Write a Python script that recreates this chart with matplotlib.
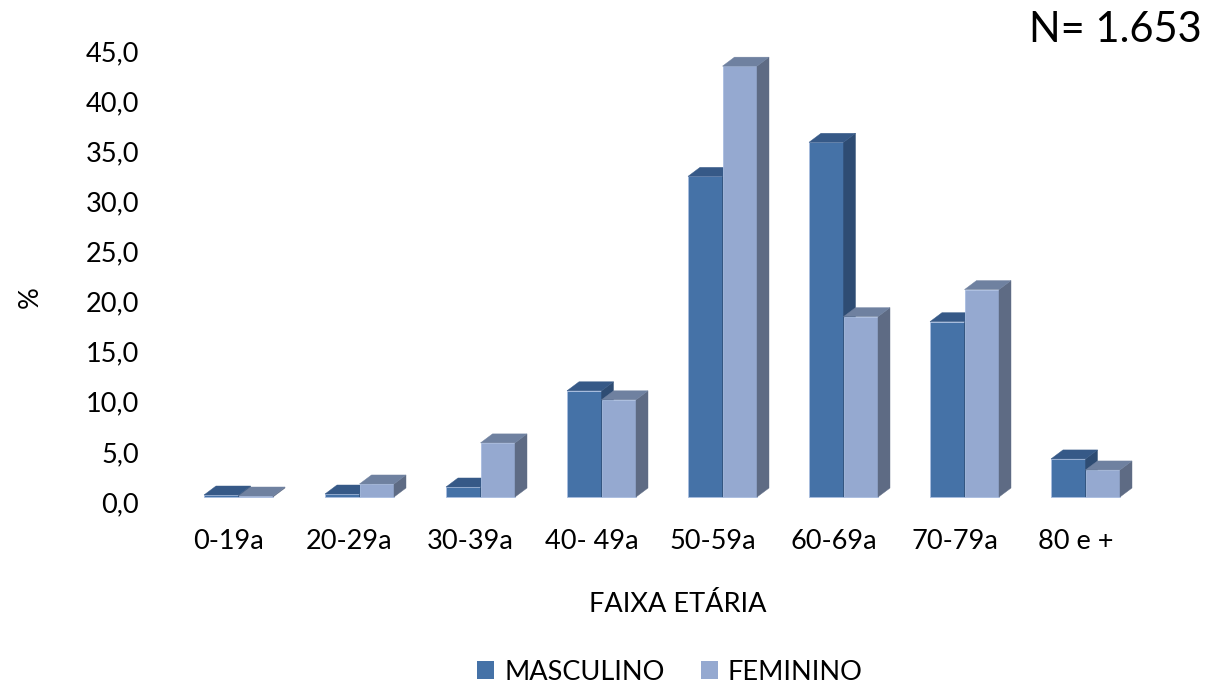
import matplotlib.pyplot as plt
from matplotlib.patches import Polygon, Patch
from matplotlib.transforms import ScaledTranslation

# Distribuição por faixa etária e sexo (%)
faixas = ['0-19a', '20-29a', '30-39a', '40- 49a', '50-59a', '60-69a', '70-79a', '80 e +']
masculino = [0.2, 0.3, 1.0, 10.6, 32.0, 35.4, 17.5, 3.8]
feminino = [0.1, 1.3, 5.4, 9.7, 43.0, 18.0, 20.7, 2.7]
yticks = [0, 5, 10, 15, 20, 25, 30, 35, 40, 45]
ytick_labels = ['0,0', '5,0', '10,0', '15,0', '20,0', '25,0', '30,0', '35,0', '40,0', '45,0']

# cores: frente, topo, lateral
cores_m = ('#4572a7', '#365987', '#2e4c73')
cores_f = ('#95a9d0', '#6f81a0', '#5e6b84')

plt.rcParams['font.family'] = ['Lato', 'DejaVu Sans']

W, H = 1211, 684
fig = plt.figure(figsize=(W / 100, H / 100), dpi=100)

# eixo posicionado em pixels
ax_l, ax_r, ax_t, ax_b = 150, 1150, 40, 510
ax = fig.add_axes([ax_l / W, 1 - ax_b / H, (ax_r - ax_l) / W, (ax_b - ax_t) / H])

px_cat = 121.0     # pixels por categoria
px_val = 10.02     # pixels por unidade de %
x0_px = 238.5      # centro do primeiro grupo
y0_px = 497.0      # base das barras
ax.set_xlim((ax_l - x0_px) / px_cat, (ax_r - x0_px) / px_cat)
ax.set_ylim((y0_px - ax_b) / px_val, (y0_px - ax_t) / px_val)

largura = 34.5 / px_cat
dx = 12 / px_cat
dy = 9 / px_val


def barra3d(x, h, cores, z):
    frente, topo, lado = cores
    ax.add_patch(Polygon([(x, 0), (x + largura, 0), (x + largura, h), (x, h)],
                         closed=True, facecolor=frente, edgecolor='#a9bde0',
                         linewidth=0.6, zorder=z))
    ax.add_patch(Polygon([(x + largura, 0), (x + largura + dx, dy),
                          (x + largura + dx, h + dy), (x + largura, h)],
                         closed=True, facecolor=lado, edgecolor=lado,
                         linewidth=0.3, zorder=z))
    ax.add_patch(Polygon([(x, h), (x + largura, h), (x + largura + dx, h + dy),
                          (x + dx, h + dy)],
                         closed=True, facecolor=topo, edgecolor=topo,
                         linewidth=0.3, zorder=z))


for i, (m, f) in enumerate(zip(masculino, feminino)):
    barra3d(i - largura, m, cores_m, 2 + 2 * i)
    barra3d(i, f, cores_f, 3 + 2 * i)

for s in ax.spines.values():
    s.set_visible(False)

ax.set_yticks(yticks)
ax.set_yticklabels(ytick_labels)
ax.set_xticks(range(len(faixas)))
ax.set_xticklabels(faixas)
ax.tick_params(axis='both', length=0, labelsize=19.5, colors='black')
ax.tick_params(axis='y', pad=8)
ax.tick_params(axis='x', pad=14)

# rótulos deslocados como no gráfico 3D
off_y = ScaledTranslation(0, -5 / 100, fig.dpi_scale_trans)
for lbl in ax.get_yticklabels():
    lbl.set_transform(lbl.get_transform() + off_y)
off_x = ScaledTranslation(-10 / 100, 0, fig.dpi_scale_trans)
for lbl in ax.get_xticklabels():
    lbl.set_transform(lbl.get_transform() + off_x)

fig.text(30 / W, 1 - 297 / H, '%', rotation=90, fontsize=19.5,
         ha='center', va='center')
fig.text(678 / W, 1 - 605 / H, 'FAIXA ETÁRIA', fontsize=19.5,
         ha='center', va='center')
fig.text(1202 / W, 1 - 30 / H, 'N= 1.653', fontsize=30,
         ha='right', va='center')

handles = [Patch(facecolor=cores_m[0]), Patch(facecolor=cores_f[0])]
fig.legend(handles, ['MASCULINO', 'FEMININO'], loc='center',
           bbox_to_anchor=(670 / W, 1 - 672 / H), ncol=2, frameon=False,
           fontsize=19.5, handlelength=0.63, handleheight=0.63,
           handletextpad=0.37, columnspacing=1.33, borderpad=0)

fig.savefig('out.png', dpi=100)
